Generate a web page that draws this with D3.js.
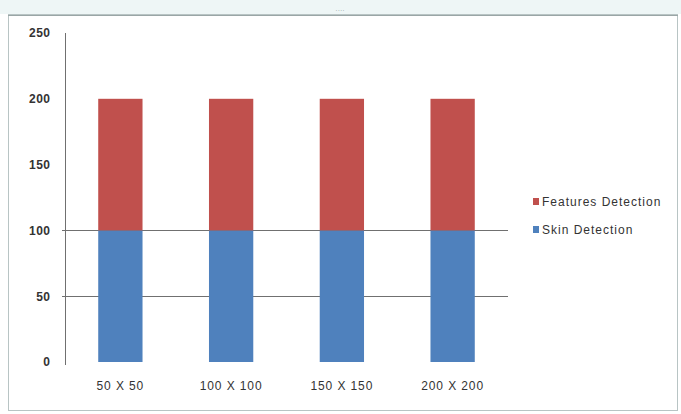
<!DOCTYPE html>
<html>
<head>
<meta charset="utf-8">
<script src="https://cdn.jsdelivr.net/npm/d3@7"></script>
<style>
  html, body { margin: 0; padding: 0; background: #fff; }
  svg { display: block; font-family: "Liberation Sans", Arial, sans-serif; }
</style>
</head>
<body>
<svg id="chart" width="681" height="414"></svg>
<script>
// stacked columns: two detection stages per image size
const categories = ["50 X 50", "100 X 100", "150 X 150", "200 X 200"];
const skin = [100, 100, 100, 100];
const features = [100, 100, 100, 100];
const yTicks = [0, 50, 100, 150, 200, 250];
const gridAt = [50, 100];
const seriesNames = ["Features Detection", "Skin Detection"];

const RED = "#c0504d", BLUE = "#4f81bd", TXT = "#333";
const svg = d3.select("#chart");

// window-ish frame
svg.append("rect").attr("x", 0).attr("y", 0).attr("width", 681).attr("height", 14).attr("fill", "#eef6f6");
svg.append("rect").attr("x", 8.5).attr("y", 14.5).attr("width", 669).attr("height", 396)
  .attr("fill", "#fff").attr("stroke", "#b8c4c4").attr("stroke-width", 1);
svg.append("line").attr("x1", 8).attr("x2", 678).attr("y1", 15.5).attr("y2", 15.5).attr("stroke", "#9aa6a6");
svg.append("text").attr("x", 340).attr("y", 13).attr("text-anchor", "middle")
  .attr("font-size", 7).attr("fill", "#9aa").text("····");

const m = { l: 65, r: 173, t: 33, b: 52 };
const x = d3.scaleBand().domain(categories).range([m.l, 681 - m.r]).paddingInner(0.6).paddingOuter(0.3);
const y = d3.scaleLinear().domain([0, 250]).range([362, m.t]);

// gridlines
svg.append("g").selectAll("line").data(gridAt).join("line")
  .attr("x1", m.l - 3).attr("x2", 681 - m.r)
  .attr("y1", (d) => Math.round(y(d)) + 0.5).attr("y2", (d) => Math.round(y(d)) + 0.5)
  .attr("stroke", "#707070").attr("stroke-width", 1);

// y axis
const ya = svg.append("g").attr("transform", `translate(${m.l + 0.5},0)`)
  .call(d3.axisLeft(y).tickValues(yTicks).tickSize(0).tickPadding(15));
ya.select(".domain").attr("stroke", "#707070").attr("d", `M0,${y(250)}V${y(0) + 3}`);
ya.selectAll("text").attr("font-size", 12).attr("font-weight", "bold").attr("fill", TXT)
  .attr("letter-spacing", 0.5).attr("font-family", "\"Liberation Sans\", Arial, sans-serif");

// bars
const rows = categories.map((c, i) => ({ c, skin: skin[i], features: features[i] }));
svg.append("g").selectAll("rect").data(rows).join("rect")
  .attr("x", (d) => x(d.c)).attr("width", x.bandwidth())
  .attr("y", (d) => y(d.skin)).attr("height", (d) => y(0) - y(d.skin))
  .attr("fill", BLUE);
svg.append("g").selectAll("rect").data(rows).join("rect")
  .attr("x", (d) => x(d.c)).attr("width", x.bandwidth())
  .attr("y", (d) => y(d.skin + d.features)).attr("height", (d) => y(d.skin) - y(d.skin + d.features))
  .attr("fill", RED);

// category labels
svg.append("g").selectAll("text").data(categories).join("text")
  .attr("x", (d) => x(d) + x.bandwidth() / 2).attr("y", 390)
  .attr("text-anchor", "middle").attr("font-size", 12).attr("letter-spacing", 0.9)
  .attr("fill", TXT).text((d) => d);

// legend
const leg = svg.append("g").attr("transform", "translate(533,197)");
[RED, BLUE].forEach((col, i) => {
  const g = leg.append("g").attr("transform", `translate(0,${i * 28})`);
  g.append("rect").attr("width", 6).attr("height", 7).attr("y", 1).attr("fill", col);
  g.append("text").attr("x", 9).attr("y", 8.5).attr("font-size", 12).attr("letter-spacing", 1)
    .attr("fill", TXT).text(seriesNames[i]);
});
</script>
</body>
</html>
